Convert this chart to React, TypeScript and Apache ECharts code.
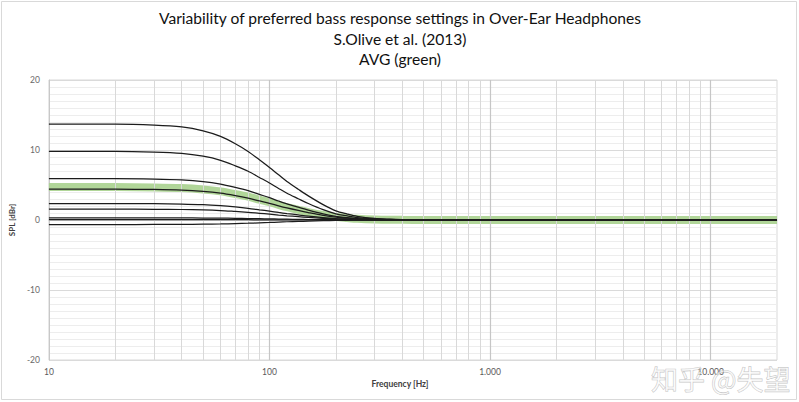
import React, { useEffect, useRef } from "react";
import * as echarts from "echarts";

const TITLE_LINES = [
  "Variability of preferred bass response settings in Over-Ear Headphones",
  "S.Olive et al. (2013)",
  "AVG (green)",
];

const FREQS = [10, 20, 30, 40, 50, 60, 70, 80, 90, 100, 110, 120, 135, 150, 175, 200, 225, 250, 300, 350, 400, 500, 20000];

const CURVE_1 = [13.7, 13.7, 13.56, 13.29, 12.74, 11.95, 10.9, 9.8, 8.6, 7.5, 6.45, 5.5, 4.4, 3.45, 2.2, 1.3, 0.85, 0.52, 0.22, 0.11, 0.05, 0, 0];
const CURVE_2 = [9.8, 9.8, 9.7, 9.51, 9.11, 8.53, 7.74, 6.96, 6.08, 5.29, 4.51, 3.82, 3.04, 2.35, 1.47, 0.88, 0.59, 0.35, 0.15, 0.08, 0.04, 0, 0];
const CURVE_3 = [5.9, 5.9, 5.84, 5.72, 5.49, 5.13, 4.66, 4.19, 3.66, 3.19, 2.71, 2.3, 1.83, 1.42, 0.89, 0.53, 0.35, 0.21, 0.09, 0.05, 0.02, 0, 0];
const CURVE_4 = [4.4, 4.4, 4.36, 4.27, 4.09, 3.83, 3.48, 3.12, 2.73, 2.38, 2.02, 1.72, 1.36, 1.06, 0.66, 0.4, 0.26, 0.16, 0.07, 0.04, 0.02, 0, 0];
const CURVE_5 = [2.35, 2.35, 2.33, 2.28, 2.19, 2.04, 1.86, 1.67, 1.46, 1.27, 1.08, 0.92, 0.73, 0.56, 0.35, 0.21, 0.14, 0.08, 0.04, 0.02, 0.01, 0, 0];
const CURVE_6 = [1.55, 1.55, 1.53, 1.5, 1.44, 1.35, 1.22, 1.1, 0.96, 0.84, 0.71, 0.6, 0.48, 0.37, 0.23, 0.14, 0.09, 0.06, 0.02, 0.01, 0, 0, 0];
const CURVE_7 = [0.3, 0.3, 0.3, 0.29, 0.28, 0.26, 0.24, 0.21, 0.19, 0.16, 0.14, 0.12, 0.09, 0.07, 0.05, 0.03, 0.02, 0.01, 0, 0, 0, 0, 0];
const CURVE_8 = [0.05, 0.05, 0.05, 0.05, 0.05, 0.04, 0.04, 0.04, 0.03, 0.03, 0.02, 0.02, 0.02, 0.01, 0.01, 0, 0, 0, 0, 0, 0, 0, 0];
const CURVE_9 = [-0.65, -0.65, -0.64, -0.63, -0.6, -0.57, -0.51, -0.46, -0.4, -0.35, -0.3, -0.25, -0.2, -0.16, -0.1, -0.06, -0.04, -0.02, -0.01, 0, 0, 0, 0];
const AVG_CURVE = [4.7, 4.7, 4.65, 4.56, 4.37, 4.09, 3.71, 3.34, 2.91, 2.54, 2.16, 1.83, 1.46, 1.13, 0.71, 0.42, 0.28, 0.17, 0.07, 0.04, 0.02, 0, 0];

const SUBJECT_CURVES = [CURVE_1, CURVE_2, CURVE_3, CURVE_4, CURVE_5, CURVE_6, CURVE_7, CURVE_8, CURVE_9];

const DECADE_LINES = [100, 1000, 10000];
const MINOR_LINES = [20, 30, 40, 50, 60, 70, 80, 90, 200, 300, 400, 500, 600, 700, 800, 900, 2000, 3000, 4000, 5000, 6000, 7000, 8000, 9000];

const X_LABELS: Record<number, string> = { 10: "10", 100: "100", 1000: "1.000", 10000: "10.000" };

const Y_MIN = -20;
const Y_MAX = 20;
const X_MIN = 10;
const X_MAX = 20000;

const FONT = "Lato, 'Open Sans', sans-serif";

export default function App() {
  const ref = useRef<HTMLDivElement>(null);

  useEffect(() => {
    if (!ref.current) return;
    const chart = echarts.init(ref.current, null, { renderer: "svg" });

    const pairs = (vals: number[]) => FREQS.map((f, i) => [f, vals[i]]);

    const subjectSeries = SUBJECT_CURVES.map((c, i) => ({
      type: "line",
      name: "S" + (i + 1),
      data: pairs(c),
      showSymbol: false,
      smooth: 0.3,
      lineStyle: { color: "#1c1c1c", width: 1.25 },
      z: 5,
      silent: true,
    }));

    const titleTexts = TITLE_LINES.map((t, i) => ({
      type: "text",
      x: 400,
      y: 18 + i * 20.5,
      style: {
        text: t,
        fontFamily: FONT,
        fontSize: 15.6,
        fill: "#111111",
        textAlign: "center",
        textVerticalAlign: "middle",
      },
      silent: true,
    }));

    const option: any = {
      animation: false,
      backgroundColor: "#ffffff",
      grid: {
        left: 45,
        right: 22,
        top: 80,
        bottom: 42,
        show: true,
        borderColor: "#d9d9d9",
        borderWidth: 1,
      },
      xAxis: {
        type: "log",
        logBase: 10,
        min: X_MIN,
        max: X_MAX,
        axisLine: { show: true, lineStyle: { color: "#d0d0d0" } },
        axisTick: { show: false },
        splitLine: { show: false },
        axisLabel: {
          fontFamily: FONT,
          fontSize: 8.5,
          color: "#595959",
          margin: 7,
          formatter: (v: number) => X_LABELS[Math.round(v)] ?? "",
        },
      },
      yAxis: {
        type: "value",
        min: Y_MIN,
        max: Y_MAX,
        interval: 10,
        axisLine: { show: true, lineStyle: { color: "#c8c8c8" } },
        axisTick: { show: false },
        axisLabel: {
          fontFamily: FONT,
          fontSize: 8.5,
          color: "#6a6a6a",
          margin: 9,
        },
        splitLine: { show: true, lineStyle: { color: "#dadada", width: 1 } },
        minorTick: { show: false, splitNumber: 10 },
        minorSplitLine: { show: true, lineStyle: { color: "#ededed", width: 1 } },
        name: "SPL [dBr]",
        nameLocation: "middle",
        nameGap: 25,
        nameTextStyle: { fontFamily: FONT, fontSize: 8, fontWeight: "bold", color: "#404040" },
      },
      series: [
        {
          type: "line",
          name: "grid",
          data: [],
          silent: true,
          markLine: {
            silent: true,
            symbol: "none",
            label: { show: false },
            animation: false,
            data: [
              ...MINOR_LINES.map((v) => ({ xAxis: v, lineStyle: { color: "#d9d9d9", width: 1, type: "solid" } })),
              ...DECADE_LINES.map((v) => ({ xAxis: v, lineStyle: { color: "#c6c6c6", width: 1.2, type: "solid" } })),
            ],
          },
          z: 1,
        },
        {
          type: "line",
          name: "AVG",
          data: pairs(AVG_CURVE),
          showSymbol: false,
          smooth: 0.3,
          lineStyle: { color: "#a9d18e", width: 8, opacity: 0.9 },
          z: 3,
          silent: true,
        },
        ...subjectSeries,
      ],
      graphic: [
        {
          type: "rect",
          shape: { x: 1.5, y: 1.5, width: 795, height: 398 },
          style: { fill: "none", stroke: "#d9d9d9", lineWidth: 1 },
          silent: true,
          z: 0,
        },
        ...titleTexts,
        {
          type: "text",
          x: 400,
          y: 384,
          style: {
            text: "Frequency [Hz]",
            fontFamily: FONT,
            fontSize: 8.5,
            fontWeight: "bold",
            fill: "#404040",
            textAlign: "center",
            textVerticalAlign: "middle",
          },
          silent: true,
        },
        {
          type: "text",
          x: 651,
          y: 378,
          style: {
            text: "知乎 @失望",
            fontFamily: "'Noto Sans CJK SC', sans-serif",
            fontSize: 27,
            fill: "rgba(255,255,255,0.55)",
            stroke: "rgba(140,140,140,0.55)",
            lineWidth: 0.8,
            textAlign: "left",
            textVerticalAlign: "middle",
          },
          silent: true,
          z: 100,
        },
      ],
    };

    chart.setOption(option);
    return () => chart.dispose();
  }, []);

  return (
    <div
      ref={ref}
      style={{ position: "fixed", left: 0, top: 0, width: 799, height: 402, background: "#fff" }}
    />
  );
}
